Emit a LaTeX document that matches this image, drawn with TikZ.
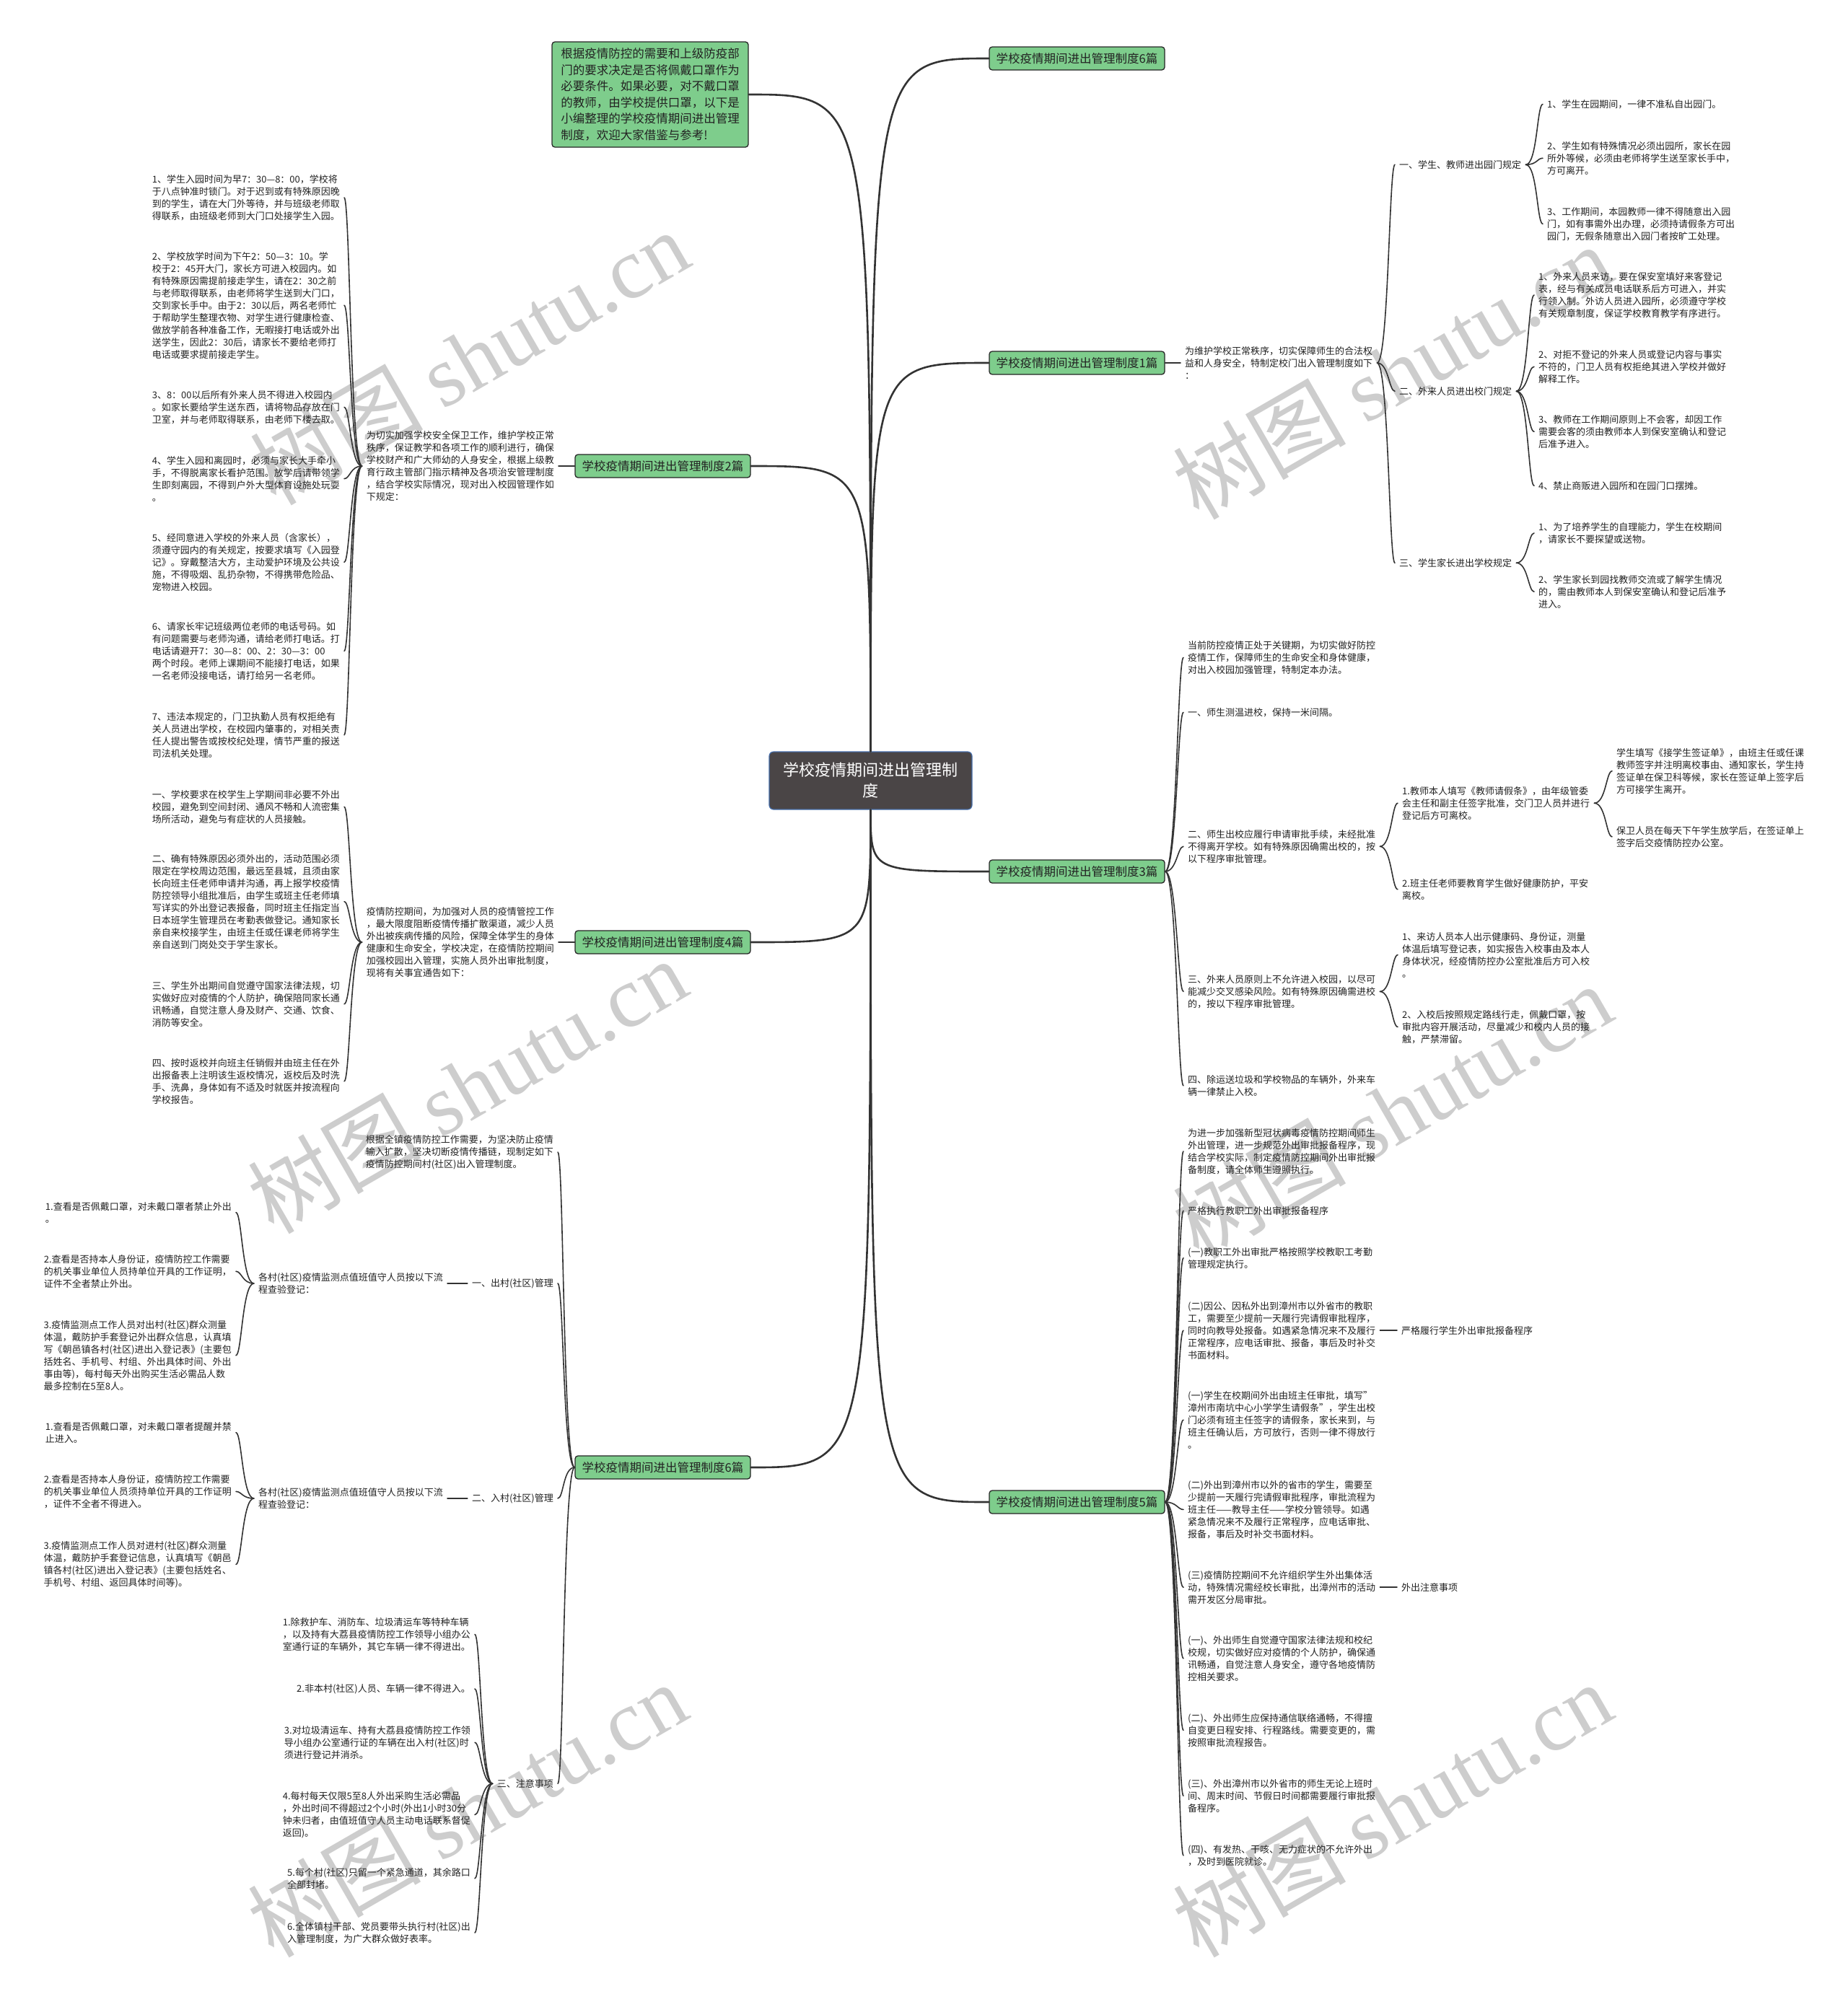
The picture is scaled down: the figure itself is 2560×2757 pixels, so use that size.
\documentclass[tikz,border=0pt]{standalone}
\usepackage{fontspec}
\setmainfont{Noto Sans CJK SC}
\newfontfamily\wmserif{Liberation Serif}
\usetikzlibrary{calc}
\newcommand\txtfont{\fontsize{13}{17}\selectfont}
\definecolor{gfill}{RGB}{126,205,140}
\definecolor{cfill}{RGB}{74,69,70}
\definecolor{cborder}{RGB}{70,110,170}
\definecolor{lcol}{RGB}{51,51,51}
\definecolor{tcol}{RGB}{34,34,34}
\definecolor{wm}{RGB}{205,205,205}
\tikzset{
  mainc/.style={draw=lcol, line width=2.6pt},
  subc/.style={draw=lcol, line width=1.6pt},
  rt/.style={anchor=north west, align=left, inner xsep=6pt, inner ysep=0pt, font=\txtfont, text=tcol},
  lt/.style={anchor=north east, align=left, inner xsep=6pt, inner ysep=0pt, font=\txtfont, text=tcol},
  branch/.style={fill=gfill, draw=black!85, line width=1.3pt, rounded corners=4pt, minimum width=243pt, minimum height=32pt, inner sep=0pt, font=\fontsize{16.5}{20}\selectfont, text=tcol},
  centerbox/.style={fill=cfill, draw=cborder, line width=1.2pt, rounded corners=6pt, minimum width=281pt, minimum height=80pt, inner sep=0pt, text=white, align=center, font=\fontsize{22}{29}\selectfont},
  introbox/.style={fill=gfill, draw=black!85, line width=1.3pt, rounded corners=4pt, minimum width=272pt, minimum height=146pt, inner sep=0pt, align=left, text=tcol, font=\fontsize{16.5}{22.5}\selectfont},
  wmk/.style={rotate=30, text=wm, font=\fontsize{120}{120}\selectfont, inner sep=0pt},
}
\newcommand\Rcon[2]{\draw[subc] (#1.east) .. controls +(16,0) and +(-8,0) .. (#2.west);}
\newcommand\Lcon[2]{\draw[subc] (#1.west) .. controls +(-16,0) and +(8,0) .. (#2.east);}
\begin{document}
\begin{tikzpicture}[x=1pt,y=-1pt,line cap=round]
\fill[white] (0,0) rectangle (2560,2757);
\useasboundingbox (0,0) rectangle (2560,2757);
% watermarks
\foreach \wx/\wy [count=\i] in {650/495, 1929/515, 647/1505, 1929/1540, 647/2508, 1929/2508}
  {\node[wmk] (wm\i) at (\wx,\wy) {树图 {\wmserif shutu.cn}};}

% center and branches
\node[centerbox] (C) at (1206.5,1082) {学校疫情期间进出管理制\\度};
\node[branch] (B6t) at (1492.5,81) {学校疫情期间进出管理制度6篇};
\node[branch] (B1) at (1492.5,503) {学校疫情期间进出管理制度1篇};
\node[branch] (B3) at (1492.5,1208) {学校疫情期间进出管理制度3篇};
\node[branch] (B5) at (1492.5,2082) {学校疫情期间进出管理制度5篇};
\node[branch] (B2) at (918.5,646) {学校疫情期间进出管理制度2篇};
\node[branch] (B4) at (918.5,1306) {学校疫情期间进出管理制度4篇};
\node[branch] (B6b) at (918.5,2034) {学校疫情期间进出管理制度6篇};
\node[introbox] (I) at (901,131) {根据疫情防控的需要和上级防疫部\\门的要求决定是否将佩戴口罩作为\\必要条件。如果必要，对不戴口罩\\的教师，由学校提供口罩，以下是\\小编整理的学校疫情期间进出管理\\制度，欢迎大家借鉴与参考!};

\draw[mainc] (C.north) .. controls (C.north |- B6t.west) .. (B6t.west);
\draw[mainc] (C.north) .. controls (C.north |- I.east) .. (I.east);
\draw[mainc] (C.north) .. controls (C.north |- B1.west) .. (B1.west);
\draw[mainc] (C.north) .. controls (C.north |- B2.east) .. (B2.east);
\draw[mainc] (C.south) .. controls (C.south |- B3.west) .. (B3.west);
\draw[mainc] (C.south) .. controls (C.south |- B4.east) .. (B4.east);
\draw[mainc] (C.south) .. controls (C.south |- B6b.east) .. (B6b.east);
\draw[mainc] (C.south) .. controls (C.south |- B5.west) .. (B5.west);

% ---------- branch 1 ----------
\node[rt, anchor=west] (D1) at (1636,503) {为维护学校正常秩序，切实保障师生的合法权\\益和人身安全，特制定校门出入管理制度如下\\：};
\draw[subc] (B1.east) -- (D1.west);
\node[rt] (S11) at (1933,222) {一、学生、教师进出园门规定};
\node[rt] (S12) at (1933,536) {二、外来人员进出校门规定};
\node[rt] (S13) at (1933,774) {三、学生家长进出学校规定};
\foreach \k in {S11,S12,S13}{\Rcon{D1}{\k}}
\node[rt] (S11a) at (2138,138) {1、学生在园期间，一律不准私自出园门。};
\node[rt] (S11b) at (2138,196) {2、学生如有特殊情况必须出园所，家长在园\\所外等候，必须由老师将学生送至家长手中，\\方可离开。};
\node[rt] (S11c) at (2138,287) {3、工作期间，本园教师一律不得随意出入园\\门，如有事需外出办理，必须持请假条方可出\\园门，无假条随意出入园门者按旷工处理。};
\foreach \k in {S11a,S11b,S11c}{\Rcon{S11}{\k}}
\node[rt] (S12a) at (2126,377) {1、外来人员来访，要在保安室填好来客登记\\表，经与有关成员电话联系后方可进入，并实\\行领入制。外访人员进入园所，必须遵守学校\\有关规章制度，保证学校教育教学有序进行。};
\node[rt] (S12b) at (2126,485) {2、对拒不登记的外来人员或登记内容与事实\\不符的，门卫人员有权拒绝其进入学校并做好\\解释工作。};
\node[rt] (S12c) at (2126,575) {3、教师在工作期间原则上不会客，却因工作\\需要会客的须由教师本人到保安室确认和登记\\后准予进入。};
\node[rt] (S12d) at (2126,667) {4、禁止商贩进入园所和在园门口摆摊。};
\foreach \k in {S12a,S12b,S12c,S12d}{\Rcon{S12}{\k}}
\node[rt] (S13a) at (2126,724) {1、为了培养学生的自理能力，学生在校期间\\，请家长不要探望或送物。};
\node[rt] (S13b) at (2126,797) {2、学生家长到园找教师交流或了解学生情况\\的，需由教师本人到保安室确认和登记后准予\\进入。};
\foreach \k in {S13a,S13b}{\Rcon{S13}{\k}}

% ---------- branch 2 ----------
\node[lt, anchor=east] (D2) at (774,646) {为切实加强学校安全保卫工作，维护学校正常\\秩序，保证教学和各项工作的顺利进行，确保\\学校财产和广大师幼的人身安全，根据上级教\\育行政主管部门指示精神及各项治安管理制度\\，结合学校实际情况，现对出入校园管理作如\\下规定：};
\draw[subc] (B2.west) -- (D2.east);
\node[lt] (K2a) at (477,242) {1、学生入园时间为早7：30—8：00，学校将\\于八点钟准时锁门。对于迟到或有特殊原因晚\\到的学生，请在大门外等待，并与班级老师取\\得联系，由班级老师到大门口处接学生入园。};
\node[lt] (K2b) at (477,349) {2、学校放学时间为下午2：50—3：10。学\\校于2：45开大门，家长方可进入校园内。如\\有特殊原因需提前接走学生，请在2：30之前\\与老师取得联系，由老师将学生送到大门口，\\交到家长手中。由于2：30以后，两名老师忙\\于帮助学生整理衣物、对学生进行健康检查、\\做放学前各种准备工作，无暇接打电话或外出\\送学生，因此2：30后，请家长不要给老师打\\电话或要求提前接走学生。};
\node[lt] (K2c) at (477,541) {3、8：00以后所有外来人员不得进入校园内\\。如家长要给学生送东西，请将物品存放在门\\卫室，并与老师取得联系，由老师下楼去取。};
\node[lt] (K2d) at (477,632) {4、学生入园和离园时，必须与家长大手牵小\\手，不得脱离家长看护范围。放学后请带领学\\生即刻离园，不得到户外大型体育设施处玩耍\\。};
\node[lt] (K2e) at (477,739) {5、经同意进入学校的外来人员（含家长），\\须遵守园内的有关规定，按要求填写《入园登\\记》。穿戴整洁大方，主动爱护环境及公共设\\施，不得吸烟、乱扔杂物，不得携带危险品、\\宠物进入校园。};
\node[lt] (K2f) at (477,862) {6、请家长牢记班级两位老师的电话号码。如\\有问题需要与老师沟通，请给老师打电话。打\\电话请避开7：30—8：00、2：30—3：00\\两个时段。老师上课期间不能接打电话，如果\\一名老师没接电话，请打给另一名老师。};
\node[lt] (K2g) at (477,987) {7、违法本规定的，门卫执勤人员有权拒绝有\\关人员进出学校，在校园内肇事的，对相关责\\任人提出警告或按校纪处理，情节严重的报送\\司法机关处理。};
\foreach \k in {K2a,K2b,K2c,K2d,K2e,K2f,K2g}{\Lcon{D2}{\k}}

% ---------- branch 4 ----------
\node[lt, anchor=east] (D4) at (774,1306) {疫情防控期间，为加强对人员的疫情管控工作\\，最大限度阻断疫情传播扩散渠道，减少人员\\外出被疾病传播的风险，保障全体学生的身体\\健康和生命安全，学校决定，在疫情防控期间\\加强校园出入管理，实施人员外出审批制度，\\现将有关事宜通告如下：};
\draw[subc] (B4.west) -- (D4.east);
\node[lt] (K4a) at (477,1095) {一、学校要求在校学生上学期间非必要不外出\\校园，避免到空间封闭、通风不畅和人流密集\\场所活动，避免与有症状的人员接触。};
\node[lt] (K4b) at (477,1184) {二、确有特殊原因必须外出的，活动范围必须\\限定在学校周边范围，最远至县城，且须由家\\长向班主任老师申请并沟通，再上报学校疫情\\防控领导小组批准后，由学生或班主任老师填\\写详实的外出登记表报备，同时班主任指定当\\日本班学生管理员在考勤表做登记。通知家长\\亲自来校接学生，由班主任或任课老师将学生\\亲自送到门岗处交于学生家长。};
\node[lt] (K4c) at (477,1360) {三、学生外出期间自觉遵守国家法律法规，切\\实做好应对疫情的个人防护，确保陪同家长通\\讯畅通，自觉注意人身及财产、交通、饮食、\\消防等安全。};
\node[lt] (K4d) at (477,1467) {四、按时返校并向班主任销假并由班主任在外\\出报备表上注明该生返校情况，返校后及时洗\\手、洗鼻，身体如有不适及时就医并按流程向\\学校报告。};
\foreach \k in {K4a,K4b,K4c,K4d}{\Lcon{D4}{\k}}

% ---------- branch 3 ----------
\node[rt] (K3a) at (1640,888) {当前防控疫情正处于关键期，为切实做好防控\\疫情工作，保障师生的生命安全和身体健康，\\对出入校园加强管理，特制定本办法。};
\node[rt] (K3b) at (1640,981) {一、师生测温进校，保持一米间隔。};
\node[rt] (K3c) at (1640,1150) {二、师生出校应履行申请审批手续，未经批准\\不得离开学校。如有特殊原因确需出校的，按\\以下程序审批管理。};
\node[rt] (K3d) at (1640,1351) {三、外来人员原则上不允许进入校园，以尽可\\能减少交叉感染风险。如有特殊原因确需进校\\的，按以下程序审批管理。};
\node[rt] (K3e) at (1640,1490) {四、除运送垃圾和学校物品的车辆外，外来车\\辆一律禁止入校。};
\foreach \k in {K3a,K3b,K3c,K3d,K3e}{\Rcon{B3}{\k}}
\node[rt] (K3c1) at (1937,1090) {1.教师本人填写《教师请假条》，由年级管委\\会主任和副主任签字批准，交门卫人员并进行\\登记后方可离校。};
\node[rt] (K3c2) at (1937,1218) {2.班主任老师要教育学生做好健康防护，平安\\离校。};
\foreach \k in {K3c1,K3c2}{\Rcon{K3c}{\k}}
\node[rt] (K3c1a) at (2234,1037) {学生填写《接学生签证单》，由班主任或任课\\教师签字并注明离校事由、通知家长，学生持\\签证单在保卫科等候，家长在签证单上签字后\\方可接学生离开。};
\node[rt] (K3c1b) at (2234,1145) {保卫人员在每天下午学生放学后，在签证单上\\签字后交疫情防控办公室。};
\foreach \k in {K3c1a,K3c1b}{\Rcon{K3c1}{\k}}
\node[rt] (K3d1) at (1937,1292) {1、来访人员本人出示健康码、身份证，测量\\体温后填写登记表，如实报告入校事由及本人\\身体状况，经疫情防控办公室批准后方可入校\\。};
\node[rt] (K3d2) at (1937,1400) {2、入校后按照规定路线行走，佩戴口罩，按\\审批内容开展活动，尽量减少和校内人员的接\\触，严禁滞留。};
\foreach \k in {K3d1,K3d2}{\Rcon{K3d}{\k}}

% ---------- branch 5 ----------
\node[rt] (K5a) at (1640,1564) {为进一步加强新型冠状病毒疫情防控期间师生\\外出管理，进一步规范外出审批报备程序，现\\结合学校实际，制定疫情防控期间外出审批报\\备制度，请全体师生遵照执行。};
\node[rt] (K5b) at (1640,1672) {严格执行教职工外出审批报备程序};
\node[rt] (K5c) at (1640,1729) {(一)教职工外出审批严格按照学校教职工考勤\\管理规定执行。};
\node[rt] (K5d) at (1640,1804) {(二)因公、因私外出到漳州市以外省市的教职\\工，需要至少提前一天履行完请假审批程序，\\同时向教导处报备。如遇紧急情况来不及履行\\正常程序，应电话审批、报备，事后及时补交\\书面材料。};
\node[rt] (K5e) at (1640,1928) {(一)学生在校期间外出由班主任审批，填写"\\漳州市南坑中心小学学生请假条"，学生出校\\门必须有班主任签字的请假条，家长来到，与\\班主任确认后，方可放行，否则一律不得放行\\。};
\node[rt] (K5f) at (1640,2052) {(二)外出到漳州市以外的省市的学生，需要至\\少提前一天履行完请假审批程序，审批流程为\\班主任——教导主任——学校分管领导。如遇\\紧急情况来不及履行正常程序，应电话审批、\\报备，事后及时补交书面材料。};
\node[rt] (K5g) at (1640,2177) {(三)疫情防控期间不允许组织学生外出集体活\\动，特殊情况需经校长审批，出漳州市的活动\\需开发区分局审批。};
\node[rt] (K5h) at (1640,2267) {(一)、外出师生自觉遵守国家法律法规和校纪\\校规，切实做好应对疫情的个人防护，确保通\\讯畅通，自觉注意人身安全，遵守各地疫情防\\控相关要求。};
\node[rt] (K5i) at (1640,2375) {(二)、外出师生应保持通信联络通畅，不得擅\\自变更日程安排、行程路线。需要变更的，需\\按照审批流程报告。};
\node[rt] (K5j) at (1640,2466) {(三)、外出漳州市以外省市的师生无论上班时\\间、周末时间、节假日时间都需要履行审批报\\备程序。};
\node[rt] (K5k) at (1640,2557) {(四)、有发热、干咳、无力症状的不允许外出\\，及时到医院就诊。};
\foreach \k in {K5a,K5b,K5c,K5d,K5e,K5f,K5g,K5h,K5i,K5j,K5k}{\Rcon{B5}{\k}}
\node[rt, anchor=west] (K5d1) at (1936,0 |- K5d.east) {严格履行学生外出审批报备程序};
\node[rt, anchor=west] (K5g1) at (1936,0 |- K5g.east) {外出注意事项};
\draw[subc] (K5d.east) -- (K5d1.west);
\draw[subc] (K5g.east) -- (K5g1.west);

% ---------- branch 6 (bottom) ----------
\node[lt] (K6a) at (773,1573) {根据全镇疫情防控工作需要，为坚决防止疫情\\输入扩散，坚决切断疫情传播链，现制定如下\\疫情防控期间村(社区)出入管理制度。};
\node[lt] (K6b) at (773,1772) {一、出村(社区)管理};
\node[lt] (K6c) at (773,2070) {二、入村(社区)管理};
\node[lt] (K6d) at (773,2466) {三、注意事项};
\foreach \k in {K6a,K6b,K6c,K6d}{\Lcon{B6b}{\k}}
\node[lt, anchor=east] (K6b1) at (620,0 |- K6b.west) {各村(社区)疫情监测点值班值守人员按以下流\\程查验登记：};
\node[lt, anchor=east] (K6c1) at (620,0 |- K6c.west) {各村(社区)疫情监测点值班值守人员按以下流\\程查验登记：};
\draw[subc] (K6b.west) -- (K6b1.east);
\draw[subc] (K6c.west) -- (K6c1.east);
\node[lt] (K6b1a) at (327,1666) {1.查看是否佩戴口罩，对未戴口罩者禁止外出\\。};
\node[lt] (K6b1b) at (327,1739) {2.查看是否持本人身份证，疫情防控工作需要\\的机关事业单位人员持单位开具的工作证明，\\证件不全者禁止外出。};
\node[lt] (K6b1c) at (327,1830) {3.疫情监测点工作人员对出村(社区)群众测量\\体温，戴防护手套登记外出群众信息，认真填\\写《朝邑镇各村(社区)进出入登记表》(主要包\\括姓名、手机号、村组、外出具体时间、外出\\事由等)，每村每天外出购买生活必需品人数\\最多控制在5至8人。};
\foreach \k in {K6b1a,K6b1b,K6b1c}{\Lcon{K6b1}{\k}}
\node[lt] (K6c1a) at (327,1971) {1.查看是否佩戴口罩，对未戴口罩者提醒并禁\\止进入。};
\node[lt] (K6c1b) at (327,2044) {2.查看是否持本人身份证，疫情防控工作需要\\的机关事业单位人员须持单位开具的工作证明\\，证件不全者不得进入。};
\node[lt] (K6c1c) at (327,2136) {3.疫情监测点工作人员对进村(社区)群众测量\\体温，戴防护手套登记信息，认真填写《朝邑\\镇各村(社区)进出入登记表》(主要包括姓名、\\手机号、村组、返回具体时间等)。};
\foreach \k in {K6c1a,K6c1b,K6c1c}{\Lcon{K6c1}{\k}}
\node[lt] (K6d1) at (658,2242) {1.除救护车、消防车、垃圾清运车等特种车辆\\，以及持有大荔县疫情防控工作领导小组办公\\室通行证的车辆外，其它车辆一律不得进出。};
\node[lt] (K6d2) at (658,2334) {2.非本村(社区)人员、车辆一律不得进入。};
\node[lt] (K6d3) at (658,2392) {3.对垃圾清运车、持有大荔县疫情防控工作领\\导小组办公室通行证的车辆在出入村(社区)时\\须进行登记并消杀。};
\node[lt] (K6d4) at (658,2483) {4.每村每天仅限5至8人外出采购生活必需品\\，外出时间不得超过2个小时(外出1小时30分\\钟未归者，由值班值守人员主动电话联系督促\\返回)。};
\node[lt] (K6d5) at (658,2589) {5.每个村(社区)只留一个紧急通道，其余路口\\全部封堵。};
\node[lt] (K6d6) at (658,2664) {6.全体镇村干部、党员要带头执行村(社区)出\\入管理制度，为广大群众做好表率。};
\foreach \k in {K6d1,K6d2,K6d3,K6d4,K6d5,K6d6}{\Lcon{K6d}{\k}}
\end{tikzpicture}
\end{document}
